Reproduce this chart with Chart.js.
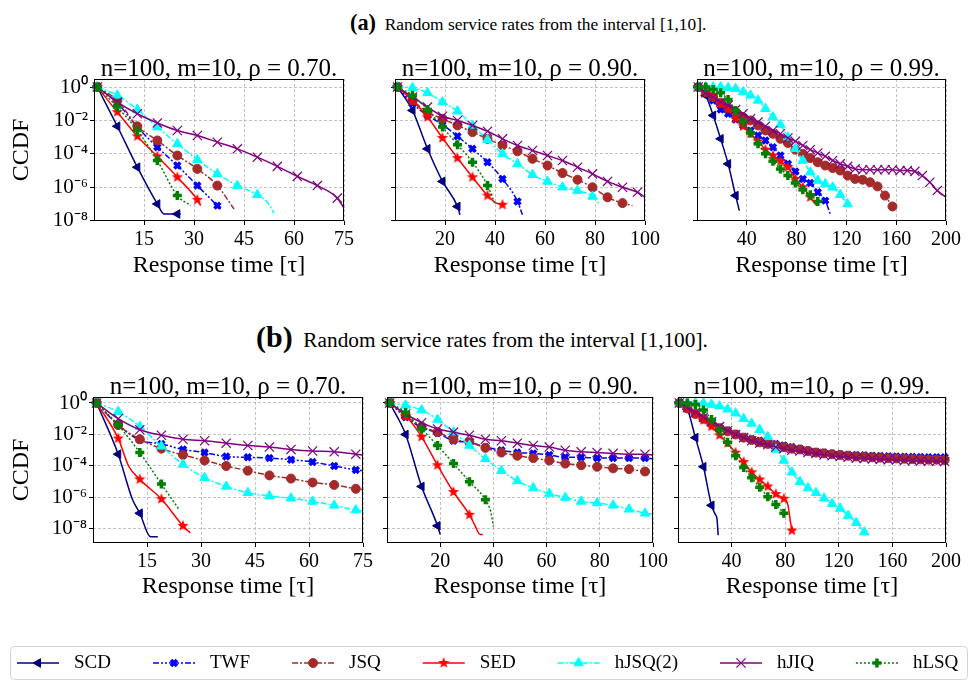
<!DOCTYPE html>
<html>
<head>
<meta charset="utf-8">
<script src="https://cdn.jsdelivr.net/npm/chart.js@4.4.1/dist/chart.umd.min.js"></script>
<style>
  body { margin: 0; background: #fff; width: 974px; height: 681px; overflow: hidden; position: relative; }
  .cap { position: absolute; white-space: nowrap; line-height: 1; font-family: "Liberation Serif", serif; color: #000; }
  canvas { position: absolute; }
</style>
</head>
<body>
<div class="cap" style="left:350px; top:12px; font-size:17.4px;"><b style="font-size:22.3px">(a)</b>&nbsp; Random service rates from the interval [1,10].</div>
<div class="cap" style="left:256px; top:322px; font-size:21.3px;"><b style="font-size:30px">(b)</b>&nbsp; Random service rates from the interval [1,100].</div>
<script>
// series names, in plotting order
const seriesNames = ['SCD', 'TWF', 'JSQ', 'SED', 'hJSQ(2)', 'hJIQ', 'hLSQ'];

const panelTitles = [
    'n=100, m=10, ρ = 0.70.', 'n=100, m=10, ρ = 0.90.', 'n=100, m=10, ρ = 0.99.'
];

// tick labels
const ticksX75 = [15, 30, 45, 60, 75];
const ticksX100 = [20, 40, 60, 80, 100];
const ticksX200 = [40, 80, 120, 160, 200];
const ticksY = [1, 1e-2, 1e-4, 1e-6, 1e-8];
const ticksYLabels = ['10⁰', '10⁻²', '10⁻⁴', '10⁻⁶', '10⁻⁸'];

// values: [response time, log10(CCDF)]

// (a) rates in [1,10], rho = 0.70
const a70SCD = [[1,0],[7,-2.35],[13,-4.8],[19,-7.0],[21,-7.6],[25,-7.6],[26,-7.6]];
const a70TWF = [[1,0],[7,-0.95],[13,-2.4],[19,-3.6],[25,-4.7],[31,-5.9],[37,-7.1],[38,-7.3]];
const a70JSQ = [[1,0],[7,-0.8],[13,-2.35],[19,-3.2],[25,-4.1],[31,-4.9],[37,-5.9],[42,-7.3]];
const a70SED = [[1,0],[7,-1.5],[13,-2.95],[19,-4.15],[25,-5.4],[31,-6.75],[32,-7.1]];
const a70HJSQ = [[1,0],[7,-0.5],[13,-1.35],[19,-2.4],[25,-3.4],[31,-4.35],[37,-5.2],[43,-5.9],[49,-6.45],[52,-6.9],[54,-7.55]];
const a70HJIQ = [[1,0],[7,-0.9],[13,-1.6],[19,-2.15],[25,-2.6],[31,-2.9],[37,-3.3],[43,-3.7],[49,-4.2],[55,-4.75],[61,-5.35],[67,-5.9],[73,-6.65],[75,-7.25]];
const a70HLSQ = [[1,0],[7,-1.2],[13,-2.6],[19,-4.4],[25,-6.5],[29,-7.1]];

// (a) rates in [1,10], rho = 0.90
const a90SCD = [[1,0],[7,-1.4],[13,-3.7],[19,-5.65],[25,-7.15],[26,-7.65]];
const a90TWF = [[1,0],[7,-1.0],[13,-1.7],[19,-2.25],[25,-2.95],[31,-3.7],[37,-4.5],[43,-5.5],[49,-6.85],[51,-7.65]];
const a90JSQ = [[1,0],[7,-0.8],[13,-1.5],[19,-1.9],[25,-2.3],[31,-2.7],[37,-3.1],[43,-3.5],[49,-3.85],[55,-4.3],[61,-4.7],[67,-5.15],[73,-5.55],[79,-6.0],[85,-6.6],[91,-6.95],[95,-7.1]];
const a90SED = [[1,0],[7,-0.8],[13,-1.8],[19,-3.05],[25,-4.25],[31,-5.4],[37,-6.5],[40,-6.9],[43,-7.05]];
const a90HJSQ = [[1,0],[7,-0.05],[13,-0.35],[19,-0.9],[25,-1.45],[31,-2.3],[37,-3.15],[43,-4.0],[49,-4.6],[55,-5.25],[61,-5.65],[67,-6.0],[73,-6.2],[79,-6.55],[82,-7.05]];
const a90HJIQ = [[1,0],[7,-0.6],[13,-1.2],[19,-1.75],[25,-2.0],[31,-2.3],[37,-2.65],[43,-3.1],[49,-3.5],[55,-3.8],[61,-4.1],[67,-4.4],[73,-4.8],[79,-5.2],[85,-5.65],[91,-6.0],[97,-6.3],[100,-6.6]];
const a90HLSQ = [[1,0],[7,-0.5],[13,-1.35],[19,-2.4],[25,-3.45],[31,-4.5],[37,-5.9],[40,-7.0]];

// (a) rates in [1,10], rho = 0.99
const a99SCD = [[1,0],[7,-0.5],[13,-1.7],[19,-3.1],[25,-4.6],[31,-6.5],[34,-7.4]];
const a99TWF = [[1,0],[7,-0.3],[13,-0.8],[19,-1.35],[25,-1.6],[31,-1.95],[37,-2.3],[43,-2.6],[49,-2.9],[55,-3.2],[61,-3.6],[67,-4.1],[73,-4.6],[79,-5.05],[85,-5.5],[91,-5.75],[97,-6.3],[103,-6.8],[107,-7.6]];
const a99JSQ = [[1,0],[7,-0.3],[13,-0.6],[19,-0.95],[25,-1.25],[31,-1.5],[37,-1.8],[43,-2.0],[49,-2.3],[55,-2.6],[61,-2.8],[67,-3.1],[73,-3.35],[79,-3.75],[85,-4.0],[91,-4.25],[97,-4.5],[103,-4.7],[109,-4.85],[115,-5.0],[121,-5.3],[127,-5.5],[133,-5.55],[139,-5.7],[145,-5.95],[151,-6.5],[157,-7.15]];
const a99SED = [[1,0],[7,-0.2],[13,-0.5],[19,-1.0],[25,-1.3],[31,-1.9],[37,-2.35],[43,-2.8],[49,-3.25],[55,-3.75],[61,-4.1],[67,-4.45],[73,-4.8],[79,-5.5],[85,-6.0],[91,-6.6],[96,-7.1]];
const a99HJSQ = [[1,0],[7,0],[13,0],[19,0],[25,-0.05],[31,-0.1],[37,-0.3],[43,-0.5],[49,-0.8],[55,-1.3],[61,-1.8],[67,-2.25],[73,-3.0],[79,-3.7],[85,-4.4],[91,-5.1],[97,-5.6],[103,-5.8],[109,-6.0],[115,-6.45],[121,-7.0]];
const a99HJIQ = [[1,0],[7,-0.35],[13,-0.6],[19,-0.9],[25,-1.1],[31,-1.35],[37,-1.6],[43,-1.9],[49,-2.1],[55,-2.35],[61,-2.6],[67,-2.8],[73,-3.05],[79,-3.25],[85,-3.5],[91,-3.75],[97,-3.95],[103,-4.15],[109,-4.4],[115,-4.6],[121,-4.75],[127,-4.9],[133,-4.95],[139,-4.95],[145,-4.95],[151,-4.95],[157,-4.95],[163,-5.0],[169,-5.0],[175,-5.05],[181,-5.3],[187,-5.7],[193,-6.2],[200,-6.6]];
const a99HLSQ = [[1,0],[7,0],[13,-0.15],[19,-0.35],[25,-0.75],[31,-1.4],[37,-2.1],[43,-2.75],[49,-3.4],[55,-4.0],[61,-4.45],[67,-4.9],[73,-5.3],[79,-5.75],[85,-6.15],[91,-6.45],[97,-6.85]];

// (b) rates in [1,100], rho = 0.70
const b70SCD = [[1,0],[7,-3.25],[11,-6.15],[13,-7.0],[16,-8.5],[18,-8.5]];
const b70TWF = [[1,0],[7,-1.4],[13,-2.35],[19,-2.6],[25,-2.95],[31,-3.15],[37,-3.4],[43,-3.45],[49,-3.5],[55,-3.6],[61,-3.75],[67,-4.0],[73,-4.25],[75,-4.3]];
const b70JSQ = [[1,0],[7,-1.4],[13,-2.3],[19,-2.9],[25,-3.3],[31,-3.65],[37,-4.0],[43,-4.3],[49,-4.6],[55,-4.8],[61,-5.05],[67,-5.2],[73,-5.45],[75,-5.5]];
const b70SED = [[1,0],[7,-2.25],[10,-4.05],[13,-4.85],[19,-6.1],[25,-7.8],[27,-8.25]];
const b70HJSQ = [[1,0],[7,-0.55],[13,-1.5],[19,-2.75],[25,-3.9],[31,-4.75],[37,-5.3],[43,-5.7],[49,-5.9],[55,-6.05],[61,-6.25],[67,-6.5],[73,-6.8],[75,-6.85]];
const b70HJIQ = [[1,0],[7,-1.0],[13,-1.7],[19,-2.05],[25,-2.3],[31,-2.4],[37,-2.55],[43,-2.7],[49,-2.8],[55,-2.95],[61,-3.05],[67,-3.1],[73,-3.25],[75,-3.3]];
const b70HLSQ = [[1,0],[7,-1.4],[13,-3.15],[19,-5.15],[24,-6.8]];

// (b) rates in [1,100], rho = 0.90
const b90SCD = [[1,0],[7,-2.0],[13,-5.3],[19,-7.8],[20,-8.35]];
const b90TWF = [[1,0],[7,-0.9],[13,-1.55],[19,-1.9],[25,-2.4],[31,-2.5],[37,-2.8],[43,-3.0],[49,-3.15],[55,-3.2],[61,-3.3],[67,-3.45],[73,-3.45],[79,-3.5],[85,-3.5],[91,-3.5],[97,-3.5],[100,-3.55]];
const b90JSQ = [[1,0],[7,-0.8],[13,-1.5],[19,-1.85],[25,-2.3],[31,-2.5],[37,-2.85],[43,-3.15],[49,-3.35],[55,-3.5],[61,-3.65],[67,-3.85],[73,-3.95],[79,-4.05],[85,-4.15],[91,-4.2],[97,-4.35],[100,-4.4]];
const b90SED = [[1,0],[7,-0.8],[13,-2.15],[19,-3.95],[25,-5.65],[31,-7.1],[33,-7.75],[35,-8.35],[36,-8.35]];
const b90HJSQ = [[1,0],[7,-0.15],[13,-0.45],[19,-1.05],[25,-1.85],[31,-2.7],[37,-3.55],[43,-4.3],[49,-4.95],[55,-5.4],[61,-5.75],[67,-6.0],[73,-6.25],[79,-6.35],[85,-6.5],[91,-6.75],[97,-7.0],[100,-7.05]];
const b90HJIQ = [[1,0],[7,-0.7],[13,-1.25],[19,-1.65],[25,-1.85],[31,-2.05],[37,-2.3],[43,-2.4],[49,-2.55],[55,-2.7],[61,-2.8],[67,-3.0],[73,-3.1],[79,-3.15],[85,-3.2],[91,-3.25],[97,-3.25],[100,-3.3]];
const b90HLSQ = [[1,0],[7,-0.6],[13,-1.65],[19,-2.7],[25,-3.85],[31,-5.0],[37,-6.15],[39,-6.9],[40,-7.85]];

// (b) rates in [1,100], rho = 0.99
const b99SCD = [[1,0],[7,-0.4],[13,-2.2],[19,-4.05],[25,-6.5],[28,-7.1],[29,-7.3],[30,-8.4]];
const b99TWF = [[1,0],[7,-0.35],[13,-0.7],[19,-1.0],[25,-1.3],[31,-1.55],[37,-1.75],[43,-1.95],[49,-2.15],[55,-2.3],[61,-2.4],[67,-2.5],[73,-2.6],[79,-2.7],[85,-2.8],[91,-2.9],[97,-3.0],[103,-3.1],[109,-3.15],[115,-3.2],[121,-3.25],[127,-3.28],[133,-3.3],[139,-3.32],[145,-3.35],[151,-3.37],[157,-3.38],[163,-3.4],[169,-3.41],[175,-3.42],[181,-3.43],[187,-3.44],[193,-3.45],[199,-3.45]];
const b99JSQ = [[1,0],[7,-0.35],[13,-0.7],[19,-1.0],[25,-1.3],[31,-1.6],[37,-1.8],[43,-2.0],[49,-2.2],[55,-2.35],[61,-2.5],[67,-2.6],[73,-2.7],[79,-2.8],[85,-2.9],[91,-2.95],[97,-3.05],[103,-3.15],[109,-3.2],[115,-3.25],[121,-3.3],[127,-3.35],[133,-3.4],[139,-3.42],[145,-3.45],[151,-3.47],[157,-3.5],[163,-3.52],[169,-3.54],[175,-3.56],[181,-3.58],[187,-3.6],[193,-3.6],[199,-3.62]];
const b99SED = [[1,0],[7,-0.3],[13,-0.65],[19,-1.1],[25,-1.5],[31,-2.05],[37,-2.55],[43,-3.15],[49,-3.75],[55,-4.4],[61,-4.86],[67,-5.3],[73,-5.78],[79,-6.08],[82,-6.45],[84,-7.6],[85,-8.1]];
const b99HJSQ = [[1,0],[7,0],[13,0],[19,0],[25,-0.1],[31,-0.2],[37,-0.4],[43,-0.65],[49,-1.0],[55,-1.3],[61,-1.7],[67,-2.15],[73,-2.95],[79,-3.65],[85,-4.4],[91,-5.0],[97,-5.4],[103,-5.7],[109,-6.05],[115,-6.4],[121,-6.7],[127,-7.15],[133,-7.6],[139,-8.2]];
const b99HJIQ = [[1,0],[7,-0.3],[13,-0.6],[19,-0.9],[25,-1.2],[31,-1.5],[37,-1.75],[43,-2.0],[49,-2.2],[55,-2.4],[61,-2.55],[67,-2.65],[73,-2.8],[79,-2.9],[85,-3.0],[91,-3.05],[97,-3.15],[103,-3.2],[109,-3.3],[115,-3.35],[121,-3.4],[127,-3.45],[133,-3.5],[139,-3.52],[145,-3.55],[151,-3.58],[157,-3.6],[163,-3.62],[169,-3.65],[175,-3.66],[181,-3.68],[187,-3.7],[193,-3.7],[199,-3.72]];
const b99HLSQ = [[1,0],[7,0],[13,-0.1],[19,-0.45],[25,-1.05],[31,-1.75],[37,-2.5],[43,-3.35],[49,-4.1],[55,-4.75],[61,-5.35],[67,-5.95],[73,-6.45],[79,-7.0]];

const SERIF = '"Liberation Serif", "Times New Roman", serif';

// filled five-point star, used as the SED marker
function starMarker(color, r) {
    const size = Math.ceil(r * 2) + 2;
    const c = document.createElement('canvas');
    c.width = size;
    c.height = size;
    const g = c.getContext('2d');
    g.fillStyle = color;
    g.beginPath();
    for (let k = 0; k < 10; k++) {
        const rr = k % 2 ? r * 0.42 : r;
        const a = -Math.PI / 2 + k * Math.PI / 5;
        g.lineTo(size / 2 + rr * Math.cos(a), size / 2 + rr * Math.sin(a));
    }
    g.closePath();
    g.fill();
    return c;
}

// line / marker look of each policy
const seriesStyles = {
    'SCD':     { color: '#000080', dash: [],                 marker: 'triangle', rotation: -90, radius: 5,   border: 1 },
    'TWF':     { color: '#0000ff', dash: [6, 2, 2, 2, 2, 2], marker: 'crossRot', rotation: 0,   radius: 4.2, border: 3.6 },
    'JSQ':     { color: '#a52a2a', dash: [6, 2, 2, 2],       marker: 'circle',   rotation: 0,   radius: 4.5, border: 1 },
    'SED':     { color: '#ff0000', dash: [],                 marker: starMarker('#ff0000', 6), rotation: 0, radius: 5, border: 1 },
    'hJSQ(2)': { color: '#00ffff', dash: [6, 2, 2, 2],       marker: 'triangle', rotation: 0,   radius: 5.5, border: 1 },
    'hJIQ':    { color: '#800080', dash: [],                 marker: 'crossRot', rotation: 0,   radius: 6.5, border: 1.2 },
    'hLSQ':    { color: '#008000', dash: [2, 2],             marker: 'cross',    rotation: 0,   radius: 4.5, border: 3.5 }
};

// rows of subplots: where the plot areas sit
const rows = [
    { top: 55,  plotH: 142, xH: 57, yMin: -8.02, yMax: 0.48 },
    { top: 373, plotH: 146, xH: 56, yMin: -8.89, yMax: 0.38 }
];

const panels = [
    { row: 0, plotLeft: 94,  plotW: 250, padR: 20, showY: true,  xMax: 75,  xTicks: ticksX75,  title: panelTitles[0],
      series: [a70SCD, a70TWF, a70JSQ, a70SED, a70HJSQ, a70HJIQ, a70HLSQ] },
    { row: 0, plotLeft: 393, plotW: 252, padR: 20, showY: false, xMax: 100, xTicks: ticksX100, title: panelTitles[1],
      series: [a90SCD, a90TWF, a90JSQ, a90SED, a90HJSQ, a90HJIQ, a90HLSQ] },
    { row: 0, plotLeft: 695, plotW: 251, padR: 24, showY: false, xMax: 200, xTicks: ticksX200, title: panelTitles[2],
      series: [a99SCD, a99TWF, a99JSQ, a99SED, a99HJSQ, a99HJIQ, a99HLSQ] },
    { row: 1, plotLeft: 93,  plotW: 270, padR: 14, showY: true,  xMax: 75,  xTicks: ticksX75,  title: panelTitles[0],
      series: [b70SCD, b70TWF, b70JSQ, b70SED, b70HJSQ, b70HJIQ, b70HLSQ] },
    { row: 1, plotLeft: 385, plotW: 270, padR: 16, showY: false, xMax: 100, xTicks: ticksX100, title: panelTitles[1],
      series: [b90SCD, b90TWF, b90JSQ, b90SED, b90HJSQ, b90HJIQ, b90HLSQ] },
    { row: 1, plotLeft: 676, plotW: 270, padR: 22, showY: false, xMax: 200, xTicks: ticksX200, title: panelTitles[2],
      series: [b99SCD, b99TWF, b99JSQ, b99SED, b99HJSQ, b99HJIQ, b99HLSQ] }
];

// black box around each plot area
const framePlugin = {
    id: 'frame',
    afterDatasetsDraw(chart) {
        const a = chart.chartArea;
        const ctx = chart.ctx;
        ctx.save();
        ctx.strokeStyle = '#000';
        ctx.lineWidth = 1;
        ctx.setLineDash([]);
        ctx.strokeRect(Math.round(a.left) + 0.5, Math.round(a.top) + 0.5,
            Math.round(a.right - a.left) - 1, Math.round(a.bottom - a.top) - 1);
        ctx.restore();
    }
};

function makeDatasets(series) {
    return series.map((points, i) => {
        const name = seriesNames[i];
        const s = seriesStyles[name];
        return {
            label: name,
            data: points.map(p => ({ x: p[0], y: Math.pow(10, p[1]) })),
            borderColor: s.color,
            backgroundColor: s.color,
            borderWidth: 1.5,
            borderDash: s.dash,
            pointStyle: s.marker,
            pointRotation: s.rotation,
            // a marker every 6 time units, like markevery in the original
            pointRadius: ctx => (ctx.raw && (ctx.raw.x - 1) % 6 === 0 ? s.radius : 0),
            pointHoverRadius: 0,
            pointBorderWidth: s.border,
            pointBackgroundColor: s.color,
            pointBorderColor: s.color,
            cubicInterpolationMode: 'monotone',
            order: seriesNames.length - i,
            clip: false
        };
    });
}

const gridColor = '#b4b4b4';

panels.forEach(p => {
    const row = rows[p.row];
    const yW = p.showY ? p.plotLeft : 6;
    const w = yW + p.plotW + p.padR;
    const h = 24 + row.plotH + row.xH;
    const cv = document.createElement('canvas');
    cv.width = w;
    cv.height = h;
    cv.style.left = (p.plotLeft - yW) + 'px';
    cv.style.top = row.top + 'px';
    cv.style.width = w + 'px';
    cv.style.height = h + 'px';
    document.body.appendChild(cv);

    new Chart(cv, {
        type: 'line',
        data: { datasets: makeDatasets(p.series) },
        options: {
            responsive: false,
            animation: false,
            devicePixelRatio: 1,
            events: [],
            layout: { padding: { left: 0, top: 0, bottom: 0, right: p.padR } },
            plugins: {
                legend: { display: false },
                tooltip: { enabled: false },
                title: {
                    display: true,
                    fullSize: false,
                    text: p.title,
                    color: '#000',
                    font: { family: SERIF, size: 25, weight: 'normal', lineHeight: '20px' },
                    padding: { top: 4, bottom: 0 }
                }
            },
            scales: {
                x: {
                    type: 'linear',
                    min: 0,
                    max: p.xMax,
                    bounds: 'data',
                    afterBuildTicks: axis => { axis.ticks = p.xTicks.map(v => ({ value: v })); },
                    afterFit: axis => { axis.height = row.xH; },
                    ticks: {
                        autoSkip: false, maxRotation: 0, minRotation: 0, padding: 3,
                        color: '#000', font: { family: SERIF, size: 20 }
                    },
                    grid: { color: gridColor, lineWidth: 0.8, tickLength: 4, tickColor: '#000', tickWidth: 1, borderDash: [3, 2] },
                    border: { display: false, dash: [3, 2] },
                    title: {
                        display: true, text: 'Response time [τ]', color: '#000',
                        font: { family: SERIF, size: 24, lineHeight: '24px' },
                        padding: { top: 0, bottom: 0 }
                    }
                },
                y: {
                    type: 'logarithmic',
                    min: Math.pow(10, row.yMin),
                    max: Math.pow(10, row.yMax),
                    bounds: 'data',
                    afterBuildTicks: axis => { axis.ticks = ticksY.map(v => ({ value: v })); },
                    afterFit: axis => { axis.width = yW; },
                    ticks: {
                        display: p.showY, autoSkip: false, padding: 2,
                        color: '#000', font: { family: SERIF, size: 21 },
                        callback: v => {
                            const k = ticksY.indexOf(v);
                            return k >= 0 ? ticksYLabels[k] : '';
                        }
                    },
                    grid: { color: gridColor, lineWidth: 0.8, tickLength: 4, tickColor: '#000', tickWidth: 1, borderDash: [3, 2] },
                    border: { display: false, dash: [3, 2] },
                    title: {
                        display: p.showY, text: 'CCDF', color: '#000',
                        font: { family: SERIF, size: 24, lineHeight: '24px' },
                        padding: { top: 10, bottom: 0 }
                    }
                }
            }
        },
        plugins: [framePlugin]
    });
});

/* legend along the bottom */
const legendPlugin = {
    id: 'lineLegend',
    afterDraw(chart) {
        const ctx = chart.ctx;
        const drawPoint = Chart.helpers && Chart.helpers.drawPoint;
        ctx.save();
        // rounded frame
        ctx.strokeStyle = '#d4d4d4';
        ctx.lineWidth = 1;
        ctx.beginPath();
        if (ctx.roundRect) {
            ctx.roundRect(10.5, 6.5, 957, 33, 4);
        } else {
            ctx.rect(10.5, 6.5, 957, 33);
        }
        ctx.stroke();

        ctx.font = '19px ' + SERIF;
        ctx.textBaseline = 'middle';
        const y = 23;
        let x = 17;
        seriesNames.forEach(name => {
            const s = seriesStyles[name];
            ctx.strokeStyle = s.color;
            ctx.lineWidth = 1.5;
            ctx.setLineDash(s.dash);
            ctx.beginPath();
            ctx.moveTo(x, y);
            ctx.lineTo(x + 42, y);
            ctx.stroke();
            ctx.setLineDash([]);
            if (drawPoint) {
                ctx.fillStyle = s.color;
                ctx.strokeStyle = s.color;
                ctx.lineWidth = s.border;
                drawPoint(ctx, { pointStyle: s.marker, rotation: s.rotation, radius: s.radius, borderWidth: s.border }, x + 21, y);
            }
            ctx.fillStyle = '#000';
            ctx.fillText(name, x + 57, y);
            x += 57 + ctx.measureText(name).width + 42;
        });
        ctx.restore();
    }
};

const legendCanvas = document.createElement('canvas');
legendCanvas.width = 974;
legendCanvas.height = 41;
legendCanvas.style.left = '0px';
legendCanvas.style.top = '640px';
legendCanvas.style.width = '974px';
legendCanvas.style.height = '41px';
document.body.appendChild(legendCanvas);

new Chart(legendCanvas, {
    type: 'line',
    data: { datasets: [] },
    options: {
        responsive: false,
        animation: false,
        devicePixelRatio: 1,
        events: [],
        plugins: { legend: { display: false }, tooltip: { enabled: false } },
        scales: { x: { display: false }, y: { display: false } }
    },
    plugins: [legendPlugin]
});
</script>
</body>
</html>
